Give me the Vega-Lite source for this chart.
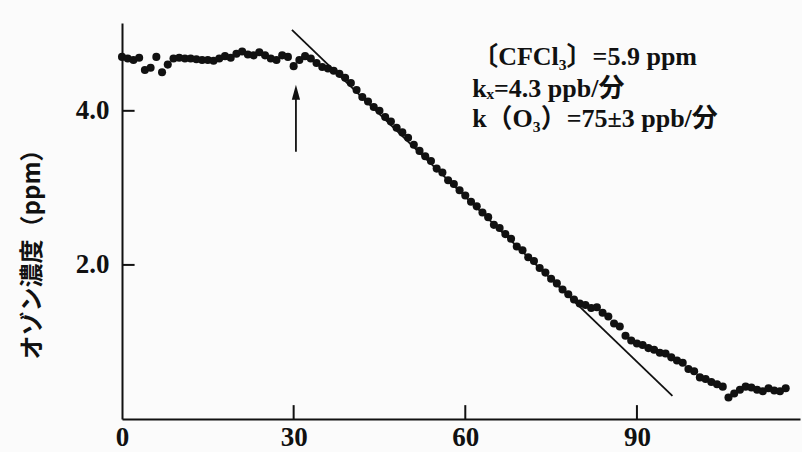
{
  "$schema": "https://vega.github.io/schema/vega-lite/v6.json",
  "width": 678,
  "height": 396,
  "autosize": "none",
  "padding": {"left": 122, "top": 23, "right": 2, "bottom": 33},
  "background": "#fbfbfb",
  "config": {"view": {"stroke": null}},
  "datasets": {
    "pts": [
      {"x":0,"y":4.70},{"x":1,"y":4.68},{"x":2,"y":4.66},{"x":3,"y":4.69},{"x":4,"y":4.53},{"x":5,"y":4.56},{"x":6,"y":4.70},{"x":7,"y":4.50},{"x":8,"y":4.60},{"x":9,"y":4.68},
      {"x":10,"y":4.69},{"x":11,"y":4.68},{"x":12,"y":4.68},{"x":13,"y":4.67},{"x":14,"y":4.66},{"x":15,"y":4.66},{"x":16,"y":4.65},{"x":17,"y":4.68},{"x":18,"y":4.71},{"x":19,"y":4.69},
      {"x":20,"y":4.74},{"x":21,"y":4.77},{"x":22,"y":4.73},{"x":23,"y":4.72},{"x":24,"y":4.76},{"x":25,"y":4.72},{"x":26,"y":4.68},{"x":27,"y":4.66},{"x":28,"y":4.72},{"x":29,"y":4.70},
      {"x":30,"y":4.58},{"x":31,"y":4.66},{"x":32,"y":4.71},{"x":33,"y":4.68},{"x":34,"y":4.62},{"x":35,"y":4.57},{"x":36,"y":4.55},{"x":37,"y":4.52},{"x":38,"y":4.48},{"x":39,"y":4.43},
      {"x":40,"y":4.36},{"x":41,"y":4.27},{"x":42,"y":4.18},{"x":43,"y":4.12},{"x":44,"y":4.05},{"x":45,"y":4.00},{"x":46,"y":3.92},{"x":47,"y":3.86},{"x":48,"y":3.78},{"x":49,"y":3.72},
      {"x":50,"y":3.65},{"x":51,"y":3.56},{"x":52,"y":3.48},{"x":53,"y":3.41},{"x":54,"y":3.35},{"x":55,"y":3.25},{"x":56,"y":3.20},{"x":57,"y":3.10},{"x":58,"y":3.05},{"x":59,"y":2.97},
      {"x":60,"y":2.90},{"x":61,"y":2.82},{"x":62,"y":2.76},{"x":63,"y":2.68},{"x":64,"y":2.62},{"x":65,"y":2.52},{"x":66,"y":2.48},{"x":67,"y":2.40},{"x":68,"y":2.34},{"x":69,"y":2.24},
      {"x":70,"y":2.19},{"x":71,"y":2.10},{"x":72,"y":2.05},{"x":73,"y":1.96},{"x":74,"y":1.90},{"x":75,"y":1.82},{"x":76,"y":1.76},{"x":77,"y":1.68},{"x":78,"y":1.62},{"x":79,"y":1.55},
      {"x":80,"y":1.50},{"x":81,"y":1.48},{"x":82,"y":1.44},{"x":83,"y":1.45},{"x":84,"y":1.38},{"x":85,"y":1.33},{"x":86,"y":1.24},{"x":87,"y":1.20},{"x":88,"y":1.08},{"x":89,"y":1.02},
      {"x":90,"y":0.98},{"x":91,"y":0.96},{"x":92,"y":0.92},{"x":93,"y":0.90},{"x":94,"y":0.86},{"x":95,"y":0.85},{"x":96,"y":0.80},{"x":97,"y":0.76},{"x":98,"y":0.73},{"x":99,"y":0.65},
      {"x":100,"y":0.62},{"x":101,"y":0.54},{"x":102,"y":0.52},{"x":103,"y":0.48},{"x":104,"y":0.45},{"x":105,"y":0.42},{"x":106,"y":0.28},{"x":107,"y":0.33},{"x":108,"y":0.38},{"x":109,"y":0.42},
      {"x":110,"y":0.41},{"x":111,"y":0.38},{"x":112,"y":0.36},{"x":113,"y":0.40},{"x":114,"y":0.37},{"x":115,"y":0.36},{"x":116,"y":0.40}
    ],
    "fit": [{"x":29.7,"y":5.05},{"x":96.2,"y":0.30}],
    "arrow": [{"x":30.4,"y":3.47,"y2":4.18}],
    "head": [{"x":30.4,"y":4.24}],
    "xticks": [{"x":30,"y":0,"y2":0.18},{"x":60,"y":0,"y2":0.18},{"x":90,"y":0,"y2":0.18}],
    "yticks": [{"x":0,"x2":2.2,"y":2},{"x":0,"x2":2.2,"y":4}],
    "notes": [
      {"x":61.2,"y":4.60,"label":"〔CFCl₃〕=5.9 ppm"},
      {"x":61.2,"y":4.18,"label":"kₓ=4.3 ppb/分"},
      {"x":61.2,"y":3.79,"label":"k（O₃）=75±3 ppb/分"}
    ]
  },
  "encoding": {
    "x": {
      "field": "x", "type": "quantitative",
      "scale": {"domain": [0, 118.5], "nice": false, "zero": false},
      "axis": {
        "values": [0, 30, 60, 90], "title": null, "grid": false, "ticks": false,
        "domainColor": "#111", "domainWidth": 2,
        "labelFont": "Liberation Serif", "labelFontSize": 27, "labelFontWeight": "bold", "labelColor": "#111",
        "labelPadding": 5, "labelFlush": false
      }
    },
    "y": {
      "field": "y", "type": "quantitative",
      "scale": {"domain": [0, 5.14], "nice": false, "zero": false},
      "axis": {
        "values": [2, 4], "format": ".1f", "grid": false, "ticks": false,
        "domainColor": "#111", "domainWidth": 2,
        "labelFont": "Liberation Serif", "labelFontSize": 27, "labelFontWeight": "bold", "labelColor": "#111",
        "labelPadding": 13, "labelFlush": false,
        "title": "オゾン濃度（ppm）", "titleFont": "Noto Sans CJK JP", "titleFontSize": 24, "titleFontWeight": "bold",
        "titleColor": "#111", "titleX": -90, "titleY": 225, "titleAngle": 270, "titleAlign": "center", "titleBaseline": "middle"
      }
    }
  },
  "layer": [
    {
      "data": {"name": "xticks"},
      "mark": {"type": "rule", "color": "#111", "strokeWidth": 2},
      "encoding": {"y2": {"field": "y2"}}
    },
    {
      "data": {"name": "yticks"},
      "mark": {"type": "rule", "color": "#111", "strokeWidth": 2},
      "encoding": {"x2": {"field": "x2"}}
    },
    {
      "data": {"name": "pts"},
      "mark": {"type": "point", "filled": true, "shape": "circle", "size": 65, "color": "#111", "opacity": 1}
    },
    {
      "data": {"name": "fit"},
      "mark": {"type": "line", "color": "#111", "strokeWidth": 1.8}
    },
    {
      "data": {"name": "arrow"},
      "mark": {"type": "rule", "color": "#111", "strokeWidth": 1.8},
      "encoding": {"y2": {"field": "y2"}}
    },
    {
      "data": {"name": "head"},
      "mark": {"type": "point", "filled": true, "shape": "M0,-1L0.55,1L-0.55,1Z", "size": 225, "color": "#111", "opacity": 1}
    },
    {
      "data": {"name": "notes"},
      "mark": {"type": "text", "align": "left", "baseline": "alphabetic", "font": "Liberation Serif, Noto Sans CJK JP, serif", "fontSize": 26, "fontWeight": "bold", "color": "#111"},
      "encoding": {"text": {"field": "label"}}
    }
  ]
}
